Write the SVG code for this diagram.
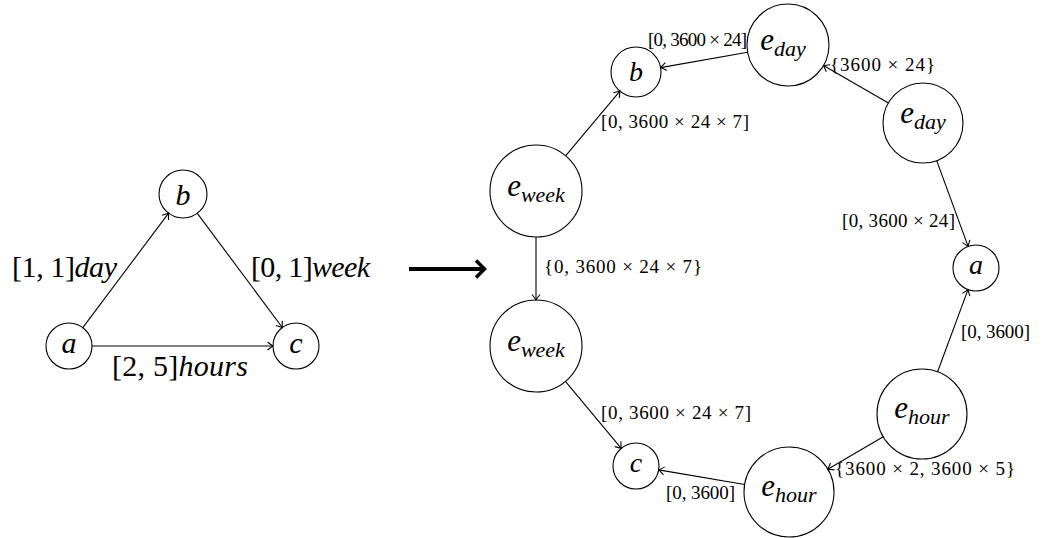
<svg xmlns="http://www.w3.org/2000/svg" width="1042" height="538" viewBox="0 0 1042 538">
<defs>
<style>
.n{fill:none;stroke:#000;stroke-width:1.1}
.e{fill:none;stroke:#000;stroke-width:1.1;marker-end:url(#ah)}
text{font-family:"Liberation Serif","DejaVu Serif",serif;fill:#000}
.i{font-style:italic}
.L{font-size:30px}
.nl{font-size:28px;font-style:italic;text-anchor:middle}
.lab{font-size:19px}
.sub{font-size:22px;font-style:italic}
</style>
<marker id="ah" markerUnits="userSpaceOnUse" markerWidth="12" markerHeight="12" viewBox="-7 -6 8 12" refX="0" refY="0" orient="auto">
<path d="M-5.5,-4 Q-1.6,-1 0,0 Q-1.6,1 -5.5,4" fill="none" stroke="#000" stroke-width="1.1"/>
</marker>
</defs>

<g id="connectors">
<line class="e" x1="82.8" y1="327.6" x2="168.6" y2="213.2"/>
<line class="e" x1="197.3" y1="213.3" x2="282.3" y2="327.5"/>
<line class="e" x1="92" y1="346" x2="273" y2="346"/>
<line x1="409" y1="269" x2="482" y2="269" stroke="#000" stroke-width="4"/>
<polyline points="476,260.5 484.5,269 476,277.5" fill="none" stroke="#000" stroke-width="3.5"/>
<line class="e" x1="747.7" y1="52.2" x2="660.6" y2="67.6"/>
<line class="e" x1="888.4" y1="103" x2="823.5" y2="65.5"/>
<line class="e" x1="936.7" y1="160.6" x2="968.1" y2="246.4"/>
<line class="e" x1="937.6" y1="371.8" x2="968" y2="289.6"/>
<line class="e" x1="883.2" y1="436.8" x2="827.8" y2="469.2"/>
<line class="e" x1="744.6" y1="484.5" x2="658.7" y2="469.9"/>
<line class="e" x1="565.4" y1="381.3" x2="621.3" y2="448.3"/>
<line class="e" x1="565.6" y1="155.8" x2="619.9" y2="91.1"/>
<line class="e" x1="536" y1="237" x2="536" y2="300"/>
</g>

<g id="left-labels">
<text class="L" x="12" y="277" textLength="105">[1, 1]<tspan class="i">day</tspan></text>
<text class="L" x="251" y="277" textLength="119">[0, 1]<tspan class="i">week</tspan></text>
<text class="L" x="112" y="376" textLength="136">[2, 5]<tspan class="i">hours</tspan></text>
</g>

<g id="L-a"><circle class="n" cx="69" cy="346" r="23"/><text class="nl" x="69" y="353" style="font-size:30px">a</text></g>
<g id="L-b"><circle class="n" cx="183" cy="194" r="24"/><text class="nl" x="183" y="205" style="font-size:30px">b</text></g>
<g id="L-c"><circle class="n" cx="296" cy="346" r="23"/><text class="nl" x="296" y="353" style="font-size:30px">c</text></g>

<g id="R-b"><circle class="n" cx="636" cy="72" r="25"/><text class="nl" x="636" y="81">b</text></g>
<g id="R-a"><circle class="n" cx="976" cy="268" r="23"/><text class="nl" x="976" y="274">a</text></g>
<g id="R-c"><circle class="n" cx="636" cy="466" r="23"/><text class="nl" x="636" y="472">c</text></g>
<g id="R-eday1"><circle class="n" cx="788" cy="45" r="41"/><text x="783" y="50" text-anchor="middle"><tspan class="i" style="font-size:31px">e</tspan><tspan class="sub" dy="6">day</tspan></text></g>
<g id="R-eday2"><circle class="n" cx="923" cy="123" r="40"/><text x="923" y="123" text-anchor="middle"><tspan class="i" style="font-size:31px">e</tspan><tspan class="sub" dy="6">day</tspan></text></g>
<g id="R-eweek1"><circle class="n" cx="536" cy="191" r="46"/><text x="536" y="196" text-anchor="middle"><tspan class="i" style="font-size:31px">e</tspan><tspan class="sub" dy="6">week</tspan></text></g>
<g id="R-eweek2"><circle class="n" cx="536" cy="346" r="46"/><text x="536" y="351" text-anchor="middle"><tspan class="i" style="font-size:31px">e</tspan><tspan class="sub" dy="6">week</tspan></text></g>
<g id="R-ehour1"><circle class="n" cx="789" cy="492" r="45"/><text x="789" y="496" text-anchor="middle"><tspan class="i" style="font-size:31px">e</tspan><tspan class="sub" dy="6">hour</tspan></text></g>
<g id="R-ehour2"><circle class="n" cx="922" cy="414" r="45"/><text x="922" y="418" text-anchor="middle"><tspan class="i" style="font-size:31px">e</tspan><tspan class="sub" dy="6">hour</tspan></text></g>

<g id="right-labels">
<text class="lab" x="648" y="46" textLength="99">[0, 3600 × 24]</text>
<text class="lab" x="830" y="71" textLength="105">{3600 × 24}</text>
<text class="lab" x="842" y="227" textLength="113">[0, 3600 × 24]</text>
<text class="lab" x="601" y="128" textLength="148">[0, 3600 × 24 × 7]</text>
<text class="lab" x="544" y="273" textLength="158">{0, 3600 × 24 × 7}</text>
<text class="lab" x="601" y="419" textLength="150">[0, 3600 × 24 × 7]</text>
<text class="lab" x="666" y="499" textLength="69">[0, 3600]</text>
<text class="lab" x="835" y="475" textLength="180">{3600 × 2, 3600 × 5}</text>
<text class="lab" x="961" y="338" textLength="69">[0, 3600]</text>
</g>
</svg>
